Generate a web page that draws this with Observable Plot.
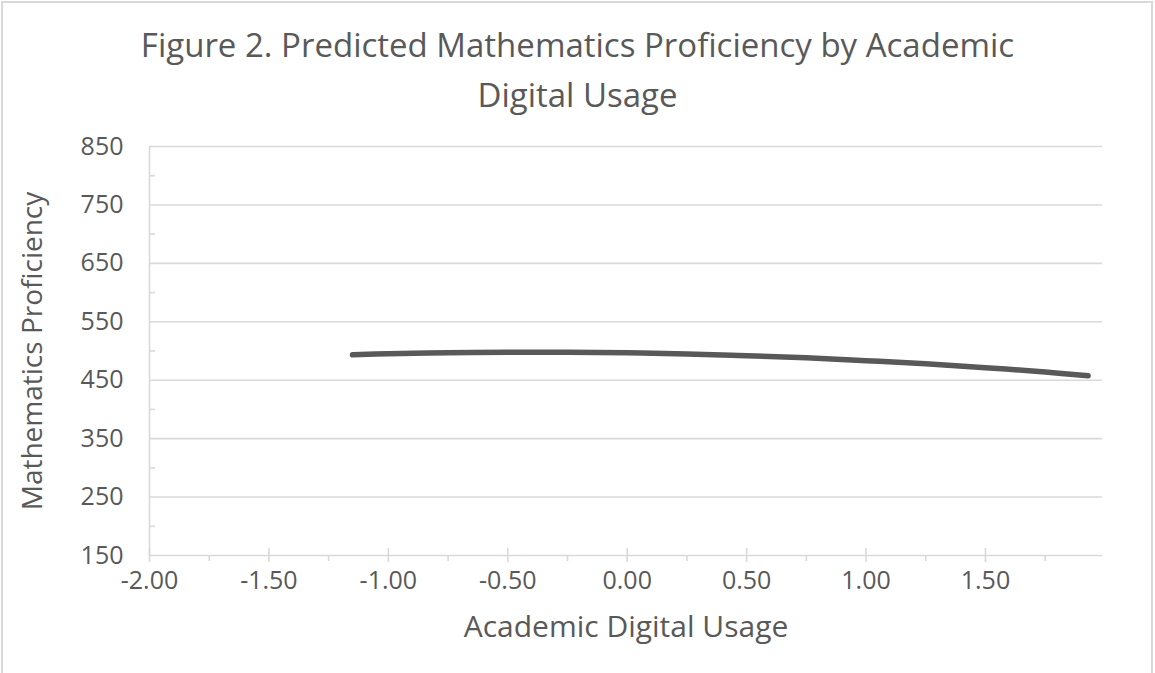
<!DOCTYPE html>
<html>
<head>
<meta charset="utf-8">
<script src="https://cdn.jsdelivr.net/npm/d3@7"></script>
<script src="https://cdn.jsdelivr.net/npm/@observablehq/plot@0.6"></script>
<style>
  html, body { margin: 0; padding: 0; background: #fff; }
  #wrap { position: relative; width: 1155px; height: 673px; overflow: hidden; font-family: "Open Sans", sans-serif; }
  #border { position: absolute; left: 1px; top: 1px; width: 1152px; height: 720px; border: 2px solid #d9d9d9; box-sizing: border-box; pointer-events: none; }
  #title { height: 130px; box-sizing: border-box; padding-top: 20px; text-align: center; font-size: 33px; line-height: 50px; color: #595959; }
</style>
</head>
<body>
<div id="wrap">
  <div id="title">Figure 2. Predicted Mathematics Proficiency by Academic<br>Digital Usage</div>
  <div id="chart"></div>
  <div id="border"></div>
</div>
<script>
// Data
const academicDigitalUsage = [-1.15, -1.0, -0.75, -0.5, -0.25, 0, 0.25, 0.5, 0.75, 1.0, 1.25, 1.5, 1.75, 1.93];
const mathProficiency = [493.5, 495.3, 497.0, 497.9, 497.8, 496.8, 495.0, 492.0, 488.5, 483.5, 478.0, 471.5, 464.0, 457.5];

const xTicks = [-2.0, -1.5, -1.0, -0.5, 0.0, 0.5, 1.0, 1.5];
const xMinorTicks = [-1.75, -1.25, -0.75, -0.25, 0.25, 0.75, 1.25, 1.75];
const yTicks = [150, 250, 350, 450, 550, 650, 750, 850];
const yMinorTicks = [200, 300, 400, 500, 600, 700, 800];
const xDomain = [-2.0, 1.99];
const yDomain = [150, 850];
const xTitle = "Academic Digital Usage";
const yTitle = "Mathematics Proficiency";

const data = academicDigitalUsage.map((x, i) => ({x, y: mathProficiency[i]}));

const grid = "#d9d9d9";
const textColor = "#595959";

const chart = Plot.plot({
  width: 1155,
  height: 543,
  marginLeft: 149,
  marginRight: 53,
  marginTop: 16,
  marginBottom: 118,
  style: {fontFamily: "'Open Sans', sans-serif", background: "transparent", overflow: "visible"},
  x: {domain: xDomain},
  y: {domain: yDomain},
  marks: [
    Plot.ruleY(yTicks, {stroke: grid, strokeWidth: 1.6}),
    Plot.ruleX([xDomain[0]], {stroke: grid, strokeWidth: 1.6}),
    Plot.axisY({ticks: yMinorTicks, tickSize: 6, dx: 6, text: null, stroke: grid, strokeWidth: 1.6, label: null}),
    Plot.axisY({ticks: yTicks, tickSize: 0, tickPadding: 26, tickFormat: d => String(d), fontSize: 25, fill: textColor, label: null}),
    Plot.axisX({ticks: xTicks, tickSize: 14, dy: -7, text: null, stroke: grid, strokeWidth: 1.6, label: null}),
    Plot.axisX({ticks: xMinorTicks, tickSize: 6, text: null, stroke: grid, strokeWidth: 1.6, label: null}),
    Plot.axisX({ticks: xTicks, tickSize: 0, tickPadding: 16, tickFormat: d => d.toFixed(2), fontSize: 25, fill: textColor, label: null}),
    Plot.text([xTitle], {frameAnchor: "bottom", dy: 72, text: d => d, fontSize: 30, fill: textColor, lineAnchor: "middle", textAnchor: "middle"}),
    Plot.text([yTitle], {frameAnchor: "left", dx: -116, rotate: -90, text: d => d, fontSize: 28, fill: textColor, lineAnchor: "middle", textAnchor: "middle"}),
    Plot.line(data, {x: "x", y: "y", stroke: "#595959", strokeWidth: 5.5, strokeLinecap: "round", strokeLinejoin: "round", curve: "catmull-rom"})
  ]
});
document.getElementById("chart").appendChild(chart);
</script>
</body>
</html>
